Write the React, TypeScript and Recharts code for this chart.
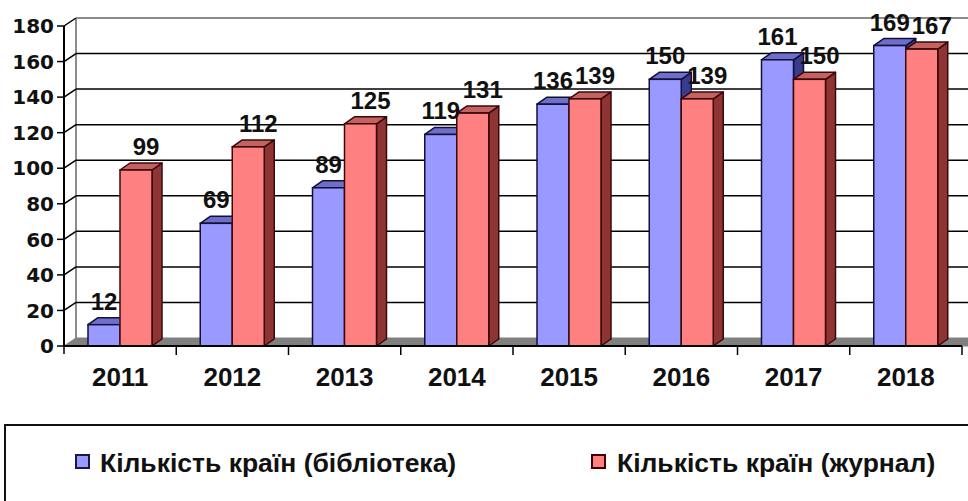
import React from 'react';
import { BarChart, Bar, XAxis, YAxis, CartesianGrid, LabelList, Legend } from 'recharts';

const years = ['2011', '2012', '2013', '2014', '2015', '2016', '2017', '2018'];
const libraryCountries = [12, 69, 89, 119, 136, 150, 161, 169];
const journalCountries = [99, 112, 125, 131, 139, 139, 150, 167];
const yTicks = [0, 20, 40, 60, 80, 100, 120, 140, 160, 180];
const seriesNames = ['Кількість країн (бібліотека)', 'Кількість країн (журнал)'];

const data = years.map((year, i) => ({ year, lib: libraryCountries[i], jour: journalCountries[i] }));

const W = 968;
const H = 501;
const DX = 12; // wall depth
const DY = 8;
const BX = 10; // bar depth
const BY = 7;
const BAND = (962 - 64) / years.length;
const SANS = '"Liberation Sans", Arial, sans-serif';

const makeBar3D = (front: string, top: string, side: string, stroke: string) => (props: any) => {
  const { x, y, width, height } = props;
  if (width == null || height == null) return null;
  const r = x + width;
  const b = y + height;
  return (
    <g>
      <polygon
        points={`${r},${b} ${r + BX},${b - BY} ${r + BX},${y - BY} ${r},${y}`}
        fill={side}
        stroke={stroke}
        strokeWidth={1.5}
        strokeLinejoin="round"
      />
      <polygon
        points={`${x},${y} ${x + BX},${y - BY} ${r + BX},${y - BY} ${r},${y}`}
        fill={top}
        stroke={stroke}
        strokeWidth={1.5}
        strokeLinejoin="round"
      />
      <rect x={x} y={y} width={width} height={height} fill={front} stroke={stroke} strokeWidth={1.5} />
    </g>
  );
};

const BlueBar = makeBar3D('#9999FF', '#6f6fc9', '#3a3a8f', '#10103a');
const RedBar = makeBar3D('#FF8080', '#c46262', '#8e3434', '#3a0808');

const GridLine = (p: any) => {
  const { x1, y1, x2, y, height } = p;
  const k = p.key ?? `g-${p.index}`;
  const isBottom = Math.abs(y1 - (y + height)) < 1;
  const isTop = Math.abs(y1 - y) < 1;
  if (isBottom) {
    return (
      <g key={k}>
        <line x1={x1 + DX} y1={y - DY} x2={x1 + DX} y2={y1 - DY} stroke="#8c8c8c" strokeWidth={2} />
        <polygon
          points={`${x1},${y1} ${x1 + DX},${y1 - DY} ${x2 + 40},${y1 - DY} ${x2 + 40},${y1}`}
          fill="#808080"
          stroke="#808080"
        />
      </g>
    );
  }
  return (
    <g key={k}>
      <line x1={x1} y1={y1} x2={x1 + DX} y2={y1 - DY} stroke="#000" strokeWidth={1.5} />
      <line
        x1={x1 + DX}
        y1={y1 - DY}
        x2={x2 + 40}
        y2={y1 - DY}
        stroke={isTop ? '#8c8c8c' : '#000'}
        strokeWidth={isTop ? 2 : 1.5}
      />
    </g>
  );
};

const YTick = (p: any) => {
  const { x, y, payload } = p;
  return (
    <g>
      <line x1={x - 7} y1={y} x2={x} y2={y} stroke="#000" strokeWidth={1.5} />
      <text
        x={x - 10}
        y={y}
        dy="0.36em"
        textAnchor="end"
        fontFamily='"DejaVu Sans", sans-serif'
        fontWeight="bold"
        fontSize={20}
        fill="#111"
      >
        {payload.value}
      </text>
    </g>
  );
};

const XTick = (p: any) => {
  const { x, y, payload, index } = p;
  const half = BAND / 2;
  return (
    <g>
      {index === 0 && <line x1={x - half} y1={y} x2={x - half} y2={y + 8} stroke="#000" strokeWidth={1.5} />}
      <line x1={x + half} y1={y} x2={x + half} y2={y + 9} stroke="#000" strokeWidth={1.5} />
      <text x={x} y={y + 40} textAnchor="middle" fontFamily={SANS} fontWeight="bold" fontSize={26} fill="#111">
        {payload.value}
      </text>
    </g>
  );
};

const makeLabel = (shift: number) => (p: any) => {
  const { x, y, width, value } = p;
  return (
    <text
      x={x + width / 2 + shift}
      y={y - 15}
      textAnchor="middle"
      fontFamily={SANS}
      fontWeight="bold"
      fontSize={24}
      fill="#111"
    >
      {value}
    </text>
  );
};

const legendSquares = [
  { left: 69, border: '#1a1a40' },
  { left: 585, border: '#400000' },
];
const legendTextLeft = [94, 611];

const LegendBox = (props: any) => {
  const payload = props.payload || [];
  return (
    <div
      style={{
        position: 'relative',
        width: 1000,
        height: 100,
        border: '2px solid #111',
        boxSizing: 'border-box',
        background: '#fff',
      }}
    >
      {payload.map((entry: any, i: number) => (
        <React.Fragment key={i}>
          <span
            style={{
              position: 'absolute',
              left: legendSquares[i].left,
              top: 28,
              width: 15,
              height: 15,
              boxSizing: 'border-box',
              border: `2px solid ${legendSquares[i].border}`,
              background: entry.color,
            }}
          />
          <span
            style={{
              position: 'absolute',
              left: legendTextLeft[i],
              top: 24,
              fontFamily: SANS,
              fontWeight: 'bold',
              fontSize: 26.5,
              lineHeight: '26px',
              color: '#111',
              whiteSpace: 'nowrap',
            }}
          >
            {entry.value}
          </span>
        </React.Fragment>
      ))}
    </div>
  );
};

export default function App() {
  return (
    <div
      style={{
        position: 'absolute',
        left: 0,
        top: 0,
        width: W,
        height: H,
        overflow: 'hidden',
        background: '#fff',
      }}
    >
      <BarChart
        width={W}
        height={H}
        data={data}
        margin={{ top: 26, right: 6, bottom: 115, left: 0 }}
        barGap={0}
      >
        <CartesianGrid vertical={false} horizontal={GridLine} />
        <XAxis
          dataKey="year"
          height={40}
          axisLine={{ stroke: '#000', strokeWidth: 2 }}
          tickLine={false}
          tickSize={0}
          tickMargin={0}
          tick={XTick}
          interval={0}
        />
        <YAxis
          width={64}
          domain={[0, 180]}
          ticks={yTicks}
          interval={0}
          axisLine={{ stroke: '#000', strokeWidth: 2 }}
          tickLine={false}
          tickSize={0}
          tickMargin={0}
          tick={YTick}
        />
        <Legend
          verticalAlign="middle"
          align="center"
          layout="horizontal"
          content={LegendBox}
          wrapperStyle={{ left: 4, top: 424, width: 1000, height: 100 }}
        />
        <Bar dataKey="lib" name={seriesNames[0]} fill="#9999FF" barSize={32} shape={BlueBar} isAnimationActive={false}>
          <LabelList dataKey="lib" content={makeLabel(0)} />
        </Bar>
        <Bar dataKey="jour" name={seriesNames[1]} fill="#FF8080" barSize={32} shape={RedBar} isAnimationActive={false}>
          <LabelList dataKey="jour" content={makeLabel(10)} />
        </Bar>
      </BarChart>
    </div>
  );
}
